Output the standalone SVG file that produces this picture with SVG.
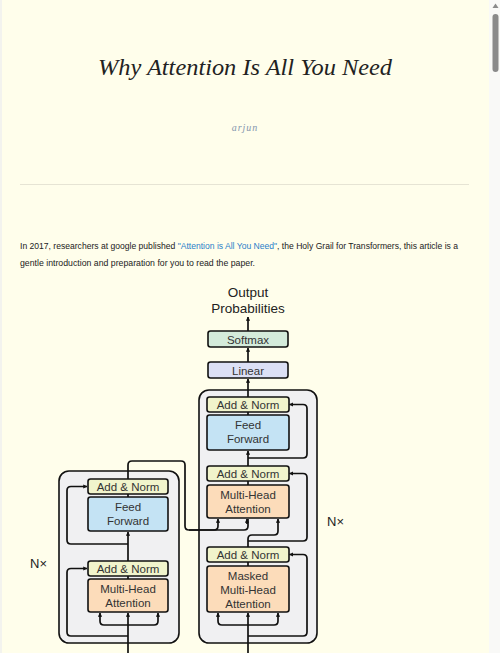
<svg xmlns="http://www.w3.org/2000/svg" width="500" height="653" viewBox="0 0 500 653">
<defs>
<marker id="ah" viewBox="0 0 10 10" refX="9" refY="5" markerWidth="4.2" markerHeight="4.2" orient="auto" markerUnits="userSpaceOnUse">
<path d="M0,0 L10,5 L0,10 Z" fill="#111"/>
</marker>
</defs>
<style>
.pg{font-family:"Liberation Sans",Arial,sans-serif}
.box{stroke:#111;stroke-width:1.6}
.lbl{font-family:"Liberation Sans",Arial,sans-serif;font-size:11.5px;fill:#333;text-anchor:middle}
.outer{fill:#f0f0f2;stroke:#111;stroke-width:1.6}
.an{fill:#f1f4cc}
.ff{fill:#c4e3f4}
.mha{fill:#fcdcba}
.c{fill:none;stroke:#111;stroke-width:1.7}
.ca{fill:none;stroke:#111;stroke-width:1.7;marker-end:url(#ah)}
</style>
<rect x="0" y="0" width="500" height="653" fill="#fffeeb"/>
<rect x="0" y="0" width="2" height="653" fill="#f3f3ee"/>
<!-- scrollbar -->
<rect x="489" y="0" width="11" height="653" fill="#f9f9f7"/>
<path d="M492.5,8 L495.5,3.5 L498.5,8 Z" fill="#8a8a8a"/>
<rect x="492.5" y="14" width="6" height="58" rx="3" fill="#8a8a8a"/>

<text x="98" y="75" textLength="294" lengthAdjust="spacingAndGlyphs" font-family="'Liberation Serif','Times New Roman',serif" font-style="italic" font-size="23" fill="#222">Why Attention Is All You Need</text>
<text x="245" y="131" text-anchor="middle" font-family="'Liberation Serif',serif" font-style="italic" font-size="10" letter-spacing="1" fill="#8596ae">arjun</text>
<line x1="20" y1="184.5" x2="469" y2="184.5" stroke="#e6e4d4" stroke-width="1"/>

<text class="pg" x="20" y="249" font-size="9" fill="#222" textLength="438" lengthAdjust="spacingAndGlyphs">In 2017, researchers at google published <tspan fill="#2a7fc9">"Attention is All You Need"</tspan>, the Holy Grail for Transformers, this article is a</text>
<text class="pg" x="20" y="266" font-size="9" fill="#222" textLength="235" lengthAdjust="spacingAndGlyphs">gentle introduction and preparation for you to read the paper.</text>

<!-- outputs label -->
<g id="output">
<text class="pg" x="248" y="297" font-size="13.5" fill="#222" text-anchor="middle">Output</text>
<text class="pg" x="248" y="313" font-size="13.5" fill="#222" text-anchor="middle">Probabilities</text>
</g>

<g id="softmax">
<rect class="box" x="208" y="331" width="80" height="16" rx="2.5" fill="#d4ebdb"/>
<text class="lbl" x="248" y="343.5">Softmax</text>
</g>
<g id="linear">
<rect class="box" x="208" y="362" width="80" height="16" rx="2.5" fill="#dce0f5"/>
<text class="lbl" x="248" y="374.5">Linear</text>
</g>

<g id="decoder">
<rect class="outer" x="199" y="390" width="118" height="253" rx="10"/>
</g>
<g id="encoder">
<rect class="outer" x="59" y="471" width="120" height="172" rx="10"/>
</g>

<g id="dec-addnorm3">
<rect class="box an" x="207" y="397" width="82" height="15" rx="2.5"/>
<text class="lbl" x="248" y="408.5">Add &amp; Norm</text>
</g>
<g id="dec-ff">
<rect class="box ff" x="207" y="415" width="82" height="35" rx="2.5"/>
<text class="lbl" x="248" y="429">Feed</text>
<text class="lbl" x="248" y="443">Forward</text>
</g>
<g id="dec-addnorm2">
<rect class="box an" x="207" y="466" width="82" height="15" rx="2.5"/>
<text class="lbl" x="248" y="477.5">Add &amp; Norm</text>
</g>
<g id="dec-mha">
<rect class="box mha" x="207" y="485" width="82" height="33" rx="2.5"/>
<text class="lbl" x="248" y="498.5">Multi-Head</text>
<text class="lbl" x="248" y="512.5">Attention</text>
</g>
<g id="dec-addnorm1">
<rect class="box an" x="207" y="547" width="82" height="15" rx="2.5"/>
<text class="lbl" x="248" y="558.5">Add &amp; Norm</text>
</g>
<g id="dec-masked">
<rect class="box mha" x="207" y="566" width="82" height="46" rx="2.5"/>
<text class="lbl" x="248" y="579.5">Masked</text>
<text class="lbl" x="248" y="593.5">Multi-Head</text>
<text class="lbl" x="248" y="607.5">Attention</text>
</g>

<g id="enc-addnorm2">
<rect class="box an" x="88" y="479" width="80" height="15" rx="2.5"/>
<text class="lbl" x="128" y="490.5">Add &amp; Norm</text>
</g>
<g id="enc-ff">
<rect class="box ff" x="88" y="497" width="80" height="34" rx="2.5"/>
<text class="lbl" x="128" y="511">Feed</text>
<text class="lbl" x="128" y="525">Forward</text>
</g>
<g id="enc-addnorm1">
<rect class="box an" x="88" y="561" width="80" height="15" rx="2.5"/>
<text class="lbl" x="128" y="572.5">Add &amp; Norm</text>
</g>
<g id="enc-mha">
<rect class="box mha" x="88" y="579" width="80" height="33" rx="2.5"/>
<text class="lbl" x="128" y="592.5">Multi-Head</text>
<text class="lbl" x="128" y="606.5">Attention</text>
</g>

<g id="nx-left"><text class="pg" x="30" y="568" font-size="13" fill="#222">N×</text></g>
<g id="nx-right"><text class="pg" x="327" y="526" font-size="13" fill="#222">N×</text></g>

<g id="connectors">
<!-- encoder -->
<path class="ca" d="M128,653 V613"/>
<path class="ca" d="M128,625 H104 Q100,625 100,621 V613"/>
<path class="ca" d="M128,625 H154 Q158,625 158,621 V613"/>
<path class="ca" d="M128,636 H71 Q67,636 67,632 V572.5 Q67,568.5 71,568.5 H87"/>
<path class="c" d="M128,579 V576"/>
<path class="ca" d="M128,561 V532"/>
<path class="ca" d="M128,544 H71 Q67,544 67,540 V490.5 Q67,486.5 71,486.5 H87"/>
<path class="c" d="M128,497 V494"/>
<path class="c" d="M128,479 V465 Q128,461 132,461 H181 Q185,461 185,465 V526 Q185,530 189,530 H244 Q248,530 248,526 V519"/>
<path class="ca" d="M247,524 V519"/>
<path class="ca" d="M189,530 H214 Q218,530 218,526 V519"/>
<!-- decoder -->
<path class="ca" d="M248,653 V613"/>
<path class="ca" d="M248,625 H222 Q218,625 218,621 V613"/>
<path class="ca" d="M248,625 H274 Q278,625 278,621 V613"/>
<path class="ca" d="M248,636 H303 Q307,636 307,632 V558.5 Q307,554.5 303,554.5 H289.5"/>
<path class="c" d="M248,566 V562"/>
<path class="ca" d="M248,547 V539 Q248,535 252,535 H274 Q278,535 278,531 V519"/>
<path class="ca" d="M248,541 H303 Q307,541 307,537 V477.5 Q307,473.5 303,473.5 H289.5"/>
<path class="c" d="M248,485 V481"/>
<path class="ca" d="M248,466 V451"/>
<path class="ca" d="M248,458 H303 Q307,458 307,454 V408.5 Q307,404.5 303,404.5 H289.5"/>
<path class="c" d="M248,415 V412"/>
<path class="ca" d="M248,397 V379"/>
<path class="ca" d="M248,362 V348"/>
<path class="ca" d="M248,331 V317"/>
</g>
</svg>
